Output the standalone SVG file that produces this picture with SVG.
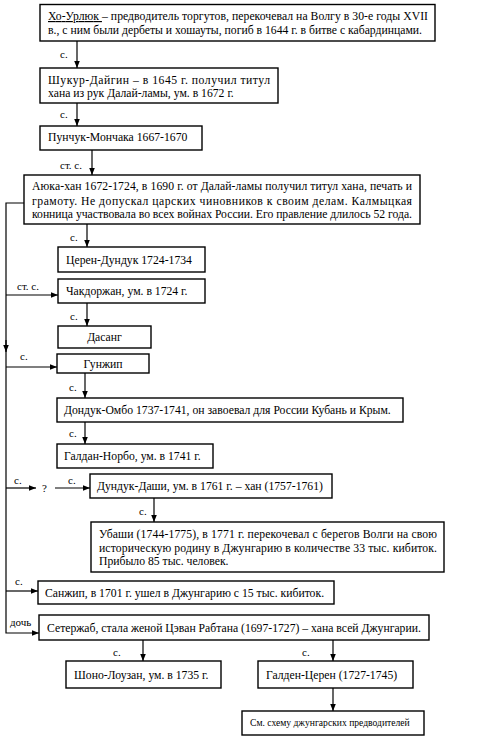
<svg xmlns="http://www.w3.org/2000/svg" width="500" height="738" viewBox="0 0 500 738">
<defs>
<marker id="ah" viewBox="0 0 10 10" refX="10" refY="5" markerWidth="7" markerHeight="7" markerUnits="userSpaceOnUse" orient="auto">
<path d="M0,1 L10,5 L0,9 Z" fill="#000"/>
</marker>
<style>
.box{fill:#fff;stroke:#000;stroke-width:1.4}
.t{font-family:"Liberation Serif","Times New Roman",serif;font-size:11.7px;fill:#000}
.s{font-family:"Liberation Serif","Times New Roman",serif;font-size:9.6px;fill:#000}
.l{font-family:"Liberation Serif","Times New Roman",serif;font-size:11px;fill:#000}
.c{fill:none;stroke:#000;stroke-width:1.2}
.a{marker-end:url(#ah)}
</style>
</defs>
<rect width="500" height="738" fill="#fff"/>
<g id="connectors">
<path class="c a" d="M77,41 V68"/>
<path class="c a" d="M77,103 V126"/>
<path class="c a" d="M92,150 V175"/>
<path class="c a" d="M87,224 V247"/>
<path class="c a" d="M24,203 H6 V633 H39"/>
<path class="c a" d="M6,340 V352"/>
<path class="c a" d="M6,295 H58"/>
<path class="c a" d="M87,303 V326"/>
<path class="c a" d="M6,367 H57"/>
<path class="c a" d="M85,373 V398"/>
<path class="c a" d="M85,422 V444"/>
<path class="c a" d="M6,488 H36"/>
<path class="c a" d="M55,488 H90"/>
<path class="c a" d="M154,498 V522"/>
<path class="c a" d="M6,591 H38"/>
<path class="c a" d="M143,640 V661"/>
<path class="c a" d="M333,640 V661"/>
<path class="c a" d="M333,688 V711"/>
<text class="l" x="60" y="58">с.</text>
<text class="l" x="60" y="118">с.</text>
<text class="l" x="60" y="169">ст. с.</text>
<text class="l" x="70" y="241">с.</text>
<text class="l" x="17" y="290">ст. с.</text>
<text class="l" x="70" y="320">с.</text>
<text class="l" x="20" y="360">с.</text>
<text class="l" x="69" y="391">с.</text>
<text class="l" x="69" y="437">с.</text>
<text class="l" x="14" y="484">с.</text>
<text class="l" x="42" y="492">?</text>
<text class="l" x="68" y="484">с.</text>
<text class="l" x="139" y="515">с.</text>
<text class="l" x="15" y="585">с.</text>
<text class="l" x="10" y="626">дочь</text>
<text class="l" x="113" y="656">с.</text>
<text class="l" x="302" y="656">с.</text>
</g>
<g id="n1">
<rect class="box" x="40" y="4.5" width="395" height="36.5"/>
<text class="t" x="48" y="20" textLength="380" lengthAdjust="spacing"><tspan text-decoration="underline">Хо-Урлюк </tspan>– предводитель торгутов, перекочевал на Волгу в 30-е годы XVII</text>
<text class="t" x="48" y="34">в., с ним были дербеты и хошауты, погиб в 1644 г. в битве с кабардинцами.</text>
</g>
<g id="n2">
<rect class="box" x="40" y="68" width="238" height="35"/>
<text class="t" x="48" y="84" textLength="222" lengthAdjust="spacing">Шукур-Дайгин – в 1645 г. получил титул</text>
<text class="t" x="48" y="97">хана из рук Далай-ламы, ум. в 1672 г.</text>
</g>
<g id="n3">
<rect class="box" x="40" y="126" width="162" height="24"/>
<text class="t" x="48" y="141">Пунчук-Мончака 1667-1670</text>
</g>
<g id="n4">
<rect class="box" x="24" y="175" width="396" height="49"/>
<text class="t" x="32" y="190" textLength="380" lengthAdjust="spacing">Аюка-хан 1672-1724, в 1690 г. от Далай-ламы получил титул хана, печать и</text>
<text class="t" x="32" y="204.5" textLength="380" lengthAdjust="spacing">грамоту. Не допускал царских чиновников к своим делам. Калмыцкая</text>
<text class="t" x="32" y="218" textLength="380" lengthAdjust="spacing">конница участвовала во всех войнах России. Его правление длилось 52 года.</text>
</g>
<g id="n5">
<rect class="box" x="58" y="247" width="147" height="25"/>
<text class="t" x="66" y="264">Церен-Дундук 1724-1734</text>
</g>
<g id="n6">
<rect class="box" x="58" y="279" width="147" height="24"/>
<text class="t" x="66" y="295">Чакдоржан, ум. в 1724 г.</text>
</g>
<g id="n7">
<rect class="box" x="58" y="326" width="93" height="22"/>
<text class="t" x="104.5" y="341" text-anchor="middle">Дасанг</text>
</g>
<g id="n8">
<rect class="box" x="57" y="354" width="92" height="19"/>
<text class="t" x="103" y="368" text-anchor="middle">Гунжип</text>
</g>
<g id="n9">
<rect class="box" x="57" y="398" width="346" height="24"/>
<text class="t" x="64" y="414">Дондук-Омбо 1737-1741, он завоевал для России Кубань и Крым.</text>
</g>
<g id="n10">
<rect class="box" x="57" y="444" width="156" height="24"/>
<text class="t" x="64" y="460">Галдан-Норбо, ум. в 1741 г.</text>
</g>
<g id="n11">
<rect class="box" x="90" y="474" width="242" height="24"/>
<text class="t" x="97" y="490">Дундук-Даши, ум. в 1761 г. – хан (1757-1761)</text>
</g>
<g id="n12">
<rect class="box" x="91" y="522" width="353" height="50"/>
<text class="t" x="99" y="538" textLength="338" lengthAdjust="spacing">Убаши (1744-1775), в 1771 г. перекочевал с берегов Волги на свою</text>
<text class="t" x="99" y="551.5" textLength="338" lengthAdjust="spacing">историческую родину в Джунгарию в количестве 33 тыс. кибиток.</text>
<text class="t" x="99" y="565">Прибыло 85 тыс. человек.</text>
</g>
<g id="n13">
<rect class="box" x="38" y="581" width="296" height="23"/>
<text class="t" x="45" y="597">Санжип, в 1701 г. ушел в Джунгарию с 15 тыс. кибиток.</text>
</g>
<g id="n14">
<rect class="box" x="39" y="615" width="390" height="25"/>
<text class="t" x="47" y="632">Сетержаб, стала женой Цэван Рабтана (1697-1727) – хана всей Джунгарии.</text>
</g>
<g id="n15">
<rect class="box" x="66" y="661" width="155" height="27"/>
<text class="t" x="74" y="679">Шоно-Лоузан, ум. в 1735 г.</text>
</g>
<g id="n16">
<rect class="box" x="258" y="661" width="155" height="27"/>
<text class="t" x="266" y="679">Галден-Церен (1727-1745)</text>
</g>
<g id="n17">
<rect class="box" x="242" y="711" width="182" height="24"/>
<text class="s" x="250" y="726">См. схему джунгарских предводителей</text>
</g>
</svg>
